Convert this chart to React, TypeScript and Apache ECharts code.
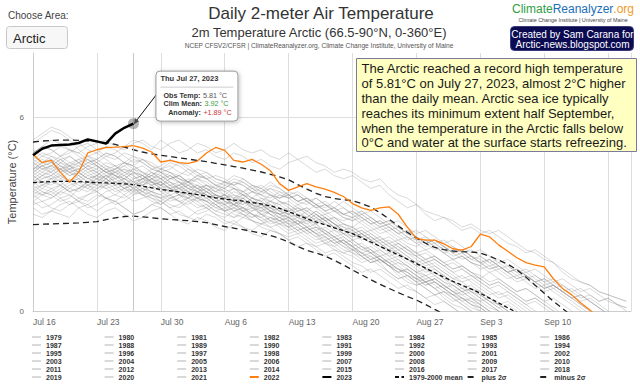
import React, { useEffect, useRef } from 'react';
import * as echarts from 'echarts';

const FONT = '"Liberation Sans", Arial, Helvetica, sans-serif';

// ---------- axis / tick data ----------
const xTickLabels = ['Jul 16', 'Jul 23', 'Jul 30', 'Aug 6', 'Aug 13', 'Aug 20', 'Aug 27', 'Sep 3', 'Sep 10'];
const yTickLabels = ['0', '6'];

// ---------- tooltip values (Jul 27, 2023) ----------
const tipDay = 11;
const tipObs = 5.81;
const tipTitle = 'Thu Jul 27, 2023';
const tipObsText = '5.81 °C';
const tipClimText = '3.92 °C';
const tipAnomText = '+1.89 °C';

// ---------- series values (day 0 = Jul 16) ----------
const y2023 = [4.83, 5.03, 5.13, 5.15, 5.16, 5.21, 5.32, 5.26, 5.19, 5.5, 5.68, 5.81];

const y2022 = [4.86, 4.6, 4.67, 4.3, 4.0, 4.3, 4.9, 5.0, 5.07, 5.08,
  5.1, 5.13, 5.05, 4.93, 4.62, 4.67, 4.6, 4.58, 4.65, 4.9,
  5.07, 4.98, 4.67, 4.62, 4.7, 4.55, 4.35, 3.95, 3.74, 3.85,
  3.95, 3.85, 3.78, 3.68, 3.55, 3.33, 3.2, 3.12, 3.2, 3.23,
  3.0, 2.6, 2.25, 2.2, 2.2, 2.08, 1.93, 1.89, 2.0, 2.38,
  2.3, 2.05, 1.85, 1.65, 1.5, 1.42, 1.37, 1.0, 0.7, 0.5,
  0.25, 0.03, -0.2, -0.45, -0.7, -0.9];

const climMean = [3.98, 4.0, 4.01, 4.02, 4.02, 4.01, 4.0, 3.98, 3.97, 3.96,
  3.94, 3.92, 3.87, 3.82, 3.77, 3.73, 3.69, 3.65, 3.61, 3.56,
  3.51, 3.47, 3.44, 3.41, 3.36, 3.32, 3.26, 3.18, 3.08, 2.97,
  2.86, 2.76, 2.67, 2.58, 2.49, 2.4, 2.27, 2.14, 2.01, 1.87,
  1.74, 1.61, 1.47, 1.33, 1.19, 1.05, 0.92, 0.8, 0.68, 0.55,
  0.4, 0.25, 0.1, -0.05, -0.2, -0.35, -0.5, -0.65, -0.8, -0.95,
  -1.1, -1.25, -1.4, -1.55, -1.7, -1.85];

const plus2s = [5.24, 5.27, 5.29, 5.3, 5.3, 5.29, 5.27, 5.25, 5.22, 5.17,
  5.08, 5.0, 4.93, 4.87, 4.83, 4.79, 4.75, 4.71, 4.67, 4.63,
  4.58, 4.53, 4.48, 4.43, 4.37, 4.31, 4.24, 4.16, 4.07, 3.92,
  3.78, 3.65, 3.55, 3.49, 3.45, 3.42, 3.33, 3.22, 3.05, 2.85,
  2.64, 2.44, 2.26, 2.1, 1.97, 1.9, 1.86, 1.84, 1.83, 1.8,
  1.7, 1.58, 1.45, 1.28, 1.05, 0.8, 0.55, 0.3, 0.08, -0.15,
  -0.4, -0.65, -0.9, -1.15, -1.4, -1.65];

const minus2s = [2.68, 2.69, 2.7, 2.71, 2.72, 2.73, 2.75, 2.77, 2.83, 2.89,
  2.93, 2.94, 2.92, 2.89, 2.86, 2.84, 2.82, 2.8, 2.77, 2.74,
  2.68, 2.62, 2.57, 2.52, 2.47, 2.41, 2.34, 2.25, 2.14, 2.0,
  1.88, 1.8, 1.7, 1.57, 1.43, 1.27, 1.12, 0.97, 0.83, 0.7,
  0.57, 0.45, 0.34, 0.2, 0.05, -0.1, -0.25, -0.4, -0.55, -0.7];

const y1979 = [3.7,3.6,3.8,3.9,3.7,3.5,3.6, 3.8,3.9,4.0,3.8,3.7,3.6,3.5, 3.4,3.6,3.7,3.5,3.3,3.2,3.4, 3.5,3.3,3.1,3.2,3.0,2.9,2.8, 2.9,2.7,2.5,2.6,2.4,2.2,2.3, 2.1,1.9,1.8,1.6,1.5,1.3,1.2, 1.0,0.9,1.0,0.8,0.6,0.5,0.3, 0.2,0.0,-0.2,-0.4];
const y1980 = [4.4,4.5,4.3,4.6,4.8,4.6,4.4, 4.2,4.0,4.1,4.3,4.2,3.9,3.7, 3.6,3.8,3.9,3.7,3.5,3.4,3.3, 3.1,3.2,3.4,3.3,3.0,2.8,2.9, 2.7,2.5,2.6,2.4,2.1,2.0,2.2, 2.0,1.7,1.5,1.6,1.4,1.1,0.9, 0.8,0.9,0.7,0.4,0.2,0.1,-0.1, -0.3];
const y1981 = [3.3,3.4,3.2,3.1,3.3,3.5,3.4, 3.6,3.5,3.3,3.4,3.6,3.8,3.7, 3.5,3.3,3.2,3.4,3.5,3.3,3.1, 3.0,2.9,3.1,3.0,2.8,2.6,2.7, 2.5,2.6,2.4,2.2,2.3,2.1,1.9, 1.8,1.6,1.7,1.5,1.2,1.0,1.1, 0.9,0.7,0.5,0.6,0.4,0.2,0.0, -0.2,-0.4];
const y1982 = [4.9,5.1,5.0,4.8,4.6,4.7,4.5, 4.3,4.1,3.9,4.0,3.8,3.7,3.9, 4.0,3.8,3.6,3.5,3.7,3.6,3.4, 3.3,3.1,3.2,3.0,2.9,3.1,3.0, 2.8,2.7,2.9,2.7,2.5,2.3,2.4, 2.2,2.0,1.8,1.9,1.7,1.5,1.4, 1.2,1.1,0.9,0.7,0.8,0.6,0.4, 0.3,0.1,0.0,-0.2,-0.4];
const y1983 = [3.0,2.9,3.1,3.0,2.9,3.2,3.3, 3.1,3.3,3.4,3.2,3.0,3.1,3.3, 3.4,3.2,3.0,2.9,3.1,3.2,3.0, 2.8,2.7,2.9,2.8,2.6,2.5,2.4, 2.2,2.3,2.1,2.0,1.8,1.9,1.7, 1.5,1.4,1.2,1.3,1.1,0.9,0.7, 0.6,0.4,0.5,0.3,0.1,-0.1,-0.3];
const y1984 = [4.2,4.0,3.9,4.1,4.3,4.2,4.0, 3.9,4.1,4.4,4.5,4.3,4.1,4.0, 3.8,3.7,3.9,4.0,3.8,3.6,3.5, 3.6,3.4,3.3,3.5,3.4,3.2,3.0, 3.1,2.9,2.8,3.0,2.8,2.6,2.5, 2.3,2.4,2.2,2.0,1.8,1.9,1.7, 1.5,1.3,1.2,1.0,0.9,0.7,0.6, 0.4,0.2,0.0,-0.2,-0.3];
const y1985 = [3.5,3.7,3.6,3.4,3.5,3.8,3.9, 3.7,3.5,3.6,3.8,3.9,3.7,3.5, 3.3,3.5,3.6,3.4,3.2,3.3,3.1, 3.2,3.0,2.9,3.1,3.2,3.0,2.8, 2.9,2.7,2.5,2.6,2.5,2.3,2.1, 2.2,2.0,1.9,1.7,1.8,1.6,1.4, 1.2,1.3,1.1,0.9,0.8,0.6,0.7, 0.5,0.3,0.2,0.0,-0.2,-0.4];
const y1986 = [4.6,4.4,4.5,4.7,4.5,4.3,4.1, 4.2,4.4,4.2,4.0,3.8,3.9,4.1, 4.2,4.0,3.8,3.9,3.7,3.5,3.6, 3.4,3.3,3.5,3.2,3.1,3.3,3.1, 2.9,2.8,2.6,2.7,2.4,2.3,2.1, 2.0,1.8,1.9,1.6,1.4,1.3,1.1, 0.9,1.0,0.8,0.6,0.5,0.3,0.1, 0.0,-0.2,-0.4];
const y1987 = [3.8,3.9,4.1,4.2,4.0,3.8,3.7, 3.9,3.8,3.6,3.5,3.7,3.9,4.0, 3.8,3.6,3.4,3.5,3.7,3.6,3.4, 3.2,3.3,3.1,2.9,3.0,2.8,2.7, 2.8,2.6,2.4,2.5,2.3,2.1,2.2, 2.0,1.8,1.6,1.7,1.5,1.3,1.2, 1.0,0.8,0.9,0.7,0.5,0.4,0.2, 0.1,-0.1,-0.3];
const y1988 = [4.3,4.5,4.6,4.4,4.2,4.3,4.5, 4.6,4.4,4.2,4.1,4.3,4.2,4.0, 3.9,4.1,4.0,3.8,3.6,3.7,3.9, 3.7,3.5,3.6,3.4,3.3,3.1,3.2, 3.0,2.9,3.1,2.9,2.7,2.6,2.4, 2.5,2.3,2.1,2.2,2.0,1.8,1.6, 1.5,1.3,1.4,1.2,1.0,0.9,0.7, 0.6,0.4,0.2,0.3,0.1,-0.1,-0.3];
const y1989 = [3.6,3.4,3.5,3.7,3.6,3.4,3.3, 3.5,3.7,3.8,3.6,3.4,3.5,3.6, 3.4,3.2,3.3,3.5,3.4,3.2,3.0, 2.9,3.1,3.0,2.8,2.7,2.9,2.8, 2.6,2.4,2.5,2.3,2.1,2.2,2.0, 1.8,1.7,1.5,1.6,1.4,1.2,1.0, 0.8,0.9,0.7,0.5,0.3,0.4,0.2, 0.0,-0.2,-0.4];
const y1990 = [5.2,5.4,5.6,5.5,5.3,5.0,4.8, 4.7,4.9,4.8,4.6,4.4,4.5,4.3, 4.1,4.2,4.0,3.8,3.9,3.7,3.6, 3.5,3.7,3.6,3.4,3.3,3.2,3.4, 3.2,3.0,2.9,3.1,2.9,2.7,2.5, 2.4,2.2,2.3,2.1,1.9,1.8,1.6, 1.4,1.5,1.3,1.1,0.9,0.8,0.6, 0.5,0.3,0.1,0.2,0.0,-0.2,-0.4];
const y1991 = [4.0,4.2,4.1,3.9,3.7,3.8,4.0, 4.1,3.9,3.7,3.8,4.0,4.1,3.9, 3.7,3.5,3.6,3.8,3.7,3.5,3.3, 3.4,3.2,3.1,3.3,3.2,3.0,2.9, 2.7,2.8,2.6,2.4,2.5,2.3,2.1, 1.9,2.0,1.8,1.6,1.4,1.5,1.3, 1.1,0.9,1.0,0.8,0.6,0.4,0.3, 0.1,-0.1,-0.3];
const y1992 = [3.2,3.0,3.1,3.3,3.4,3.2,3.0, 2.9,3.1,3.2,3.0,2.8,2.9,3.1, 3.2,3.0,2.8,2.7,2.9,2.8,2.6, 2.5,2.7,2.6,2.4,2.3,2.5,2.4, 2.2,2.0,2.1,1.9,1.7,1.8,1.6, 1.4,1.2,1.3,1.1,0.9,0.7,0.8, 0.6,0.4,0.2,0.3,0.1,-0.1,-0.3];
const y1993 = [4.5,4.3,4.2,4.4,4.6,4.5,4.3, 4.1,4.2,4.0,3.8,3.9,4.1,4.2, 4.0,3.8,3.7,3.9,3.8,3.6,3.4, 3.5,3.3,3.4,3.2,3.0,3.1,2.9, 2.8,2.9,2.7,2.5,2.6,2.4,2.2, 2.0,2.1,1.9,1.7,1.5,1.6,1.4, 1.2,1.0,1.1,0.9,0.7,0.5,0.6, 0.4,0.2,0.0,-0.2,-0.4];
const y1994 = [3.9,3.7,3.6,3.8,4.0,4.1,3.9, 3.8,4.0,4.2,4.1,3.9,3.7,3.6, 3.5,3.7,3.8,3.6,3.4,3.5,3.3, 3.1,3.2,3.0,2.9,3.1,3.0,2.8, 2.6,2.7,2.5,2.3,2.4,2.2,2.0, 1.9,1.7,1.8,1.6,1.4,1.2,1.3, 1.1,0.9,0.7,0.8,0.6,0.4,0.2, 0.1,-0.1,-0.3];
const y1995 = [4.7,4.9,4.8,4.6,4.4,4.5,4.7, 4.5,4.3,4.4,4.6,4.5,4.3,4.1, 4.0,4.2,4.1,3.9,3.7,3.8,3.6, 3.5,3.6,3.4,3.3,3.5,3.3,3.1, 3.0,3.2,3.0,2.8,2.9,2.7,2.5, 2.4,2.5,2.3,2.1,1.9,2.0,1.8, 1.6,1.4,1.5,1.3,1.1,0.9,1.0, 0.8,0.6,0.4,0.5,0.3,0.1,-0.1,-0.3];
const y1996 = [3.4,3.6,3.7,3.5,3.3,3.4,3.6, 3.7,3.5,3.4,3.6,3.8,3.6,3.4, 3.3,3.5,3.4,3.2,3.0,3.1,3.3, 3.1,2.9,3.0,2.8,2.7,2.8,2.6, 2.4,2.5,2.3,2.1,2.2,2.0,1.8, 1.7,1.5,1.6,1.4,1.2,1.0,1.1, 0.9,0.7,0.5,0.6,0.4,0.2,0.0, -0.2,-0.4];
const y1997 = [4.1,3.9,4.0,4.2,4.4,4.3,4.1, 4.0,3.8,3.9,4.1,4.0,3.8,3.7, 3.9,3.8,3.6,3.5,3.7,3.8,3.6, 3.4,3.3,3.5,3.3,3.1,3.2,3.0, 2.9,2.7,2.8,2.6,2.4,2.5,2.3, 2.1,1.9,2.0,1.8,1.6,1.7,1.5, 1.3,1.1,1.2,1.0,0.8,0.6,0.7, 0.5,0.3,0.1,-0.1,-0.3];
const y1998 = [3.7,3.9,3.8,3.6,3.8,4.0,4.2, 4.3,4.1,3.9,4.0,3.8,3.6,3.7, 3.6,3.4,3.5,3.7,3.6,3.4,3.2, 3.3,3.1,3.2,3.0,2.9,2.7,2.8, 2.7,2.5,2.6,2.4,2.3,2.1,2.2, 2.0,1.8,1.7,1.5,1.6,1.4,1.2, 1.0,1.1,0.9,0.7,0.5,0.6,0.4, 0.2,0.0,-0.2,-0.4];
const y1999 = [4.4,4.2,4.3,4.5,4.4,4.2,4.0, 3.9,4.1,4.3,4.2,4.0,3.9,4.1, 3.9,3.7,3.8,3.6,3.5,3.7,3.5, 3.3,3.4,3.2,3.1,3.3,3.1,2.9, 3.0,2.8,2.7,2.9,2.7,2.5,2.4, 2.2,2.3,2.1,1.9,1.7,1.8,1.6, 1.4,1.2,1.3,1.1,0.9,0.7,0.8, 0.6,0.4,0.2,0.0,-0.2,-0.4];
const y2000 = [4.0,3.8,3.7,3.9,4.1,3.9,3.8, 4.0,4.2,4.1,3.9,3.7,3.8,3.6, 3.5,3.6,3.4,3.3,3.5,3.4,3.2, 3.1,3.3,3.2,3.0,2.8,2.9,2.7, 2.6,2.8,2.6,2.4,2.2,2.3,2.1, 1.9,1.8,1.6,1.7,1.5,1.3,1.1, 1.0,0.8,0.9,0.7,0.5,0.3,0.4, 0.2,0.0,-0.2,-0.4];
const y2001 = [4.2,4.4,4.3,4.1,4.0,4.2,4.4, 4.5,4.3,4.1,4.2,4.4,4.3,4.1, 3.9,4.0,3.8,3.7,3.9,3.8,3.6, 3.5,3.4,3.6,3.4,3.2,3.3,3.1, 3.0,3.1,2.9,2.7,2.8,2.6,2.4, 2.3,2.4,2.2,2.0,2.1,1.9,1.7, 1.5,1.6,1.4,1.2,1.0,1.1,0.9, 0.7,0.5,0.6,0.4,0.2,0.0,-0.2,-0.4];
const y2002 = [3.9,4.1,4.2,4.0,3.8,3.7,3.9, 4.1,4.0,3.8,3.9,4.1,4.2,4.0, 3.8,3.9,3.7,3.6,3.8,3.7,3.5, 3.6,3.4,3.3,3.5,3.4,3.2,3.1, 3.2,3.0,2.9,3.1,2.9,2.7,2.6, 2.4,2.5,2.3,2.1,2.2,2.0,1.8, 1.7,1.5,1.6,1.4,1.2,1.0,1.1, 0.9,0.7,0.5,0.6,0.4,0.2,0.0,-0.2,-0.4];
const y2003 = [4.6,4.4,4.5,4.7,4.8,4.6,4.4, 4.3,4.5,4.4,4.2,4.0,4.1,4.3, 4.1,3.9,4.0,3.8,3.7,3.9,3.8, 3.6,3.5,3.7,3.5,3.3,3.4,3.2, 3.1,3.3,3.1,2.9,3.0,2.8,2.6, 2.5,2.6,2.4,2.2,2.3,2.1,1.9, 1.8,1.6,1.7,1.5,1.3,1.4,1.2, 1.0,0.8,0.9,0.7,0.5,0.3,0.4,0.2,0.0,-0.2,-0.4];
const y2004 = [3.6,3.8,4.0,3.9,3.7,3.8,4.0, 4.2,4.1,3.9,3.7,3.8,4.0,3.9, 3.7,3.8,3.9,3.7,3.5,3.6,3.4, 3.3,3.5,3.4,3.2,3.3,3.1,3.0, 2.9,3.0,2.8,2.7,2.9,2.7,2.5, 2.3,2.4,2.2,2.0,1.9,2.1,1.9, 1.7,1.5,1.6,1.4,1.2,1.3,1.1, 0.9,0.7,0.8,0.6,0.4,0.2,0.3,0.1,-0.1,-0.3];
const y2005 = [4.8,4.6,4.7,4.5,4.3,4.4,4.6, 4.7,4.5,4.3,4.4,4.2,4.0,4.1, 4.3,4.2,4.0,3.9,4.1,4.0,3.8, 3.7,3.8,3.6,3.5,3.7,3.6,3.4, 3.3,3.1,3.2,3.0,2.8,2.9,2.7, 2.6,2.4,2.5,2.3,2.1,2.2,2.0, 1.8,1.9,1.7,1.5,1.6,1.4,1.2, 1.1,0.9,1.0,0.8,0.6,0.7,0.5,0.3,0.1,-0.1,-0.3];
const y2006 = [3.8,3.6,3.5,3.7,3.9,4.0,3.8, 3.7,3.9,4.0,3.8,3.6,3.7,3.9, 4.0,3.8,3.6,3.7,3.5,3.4,3.6, 3.5,3.3,3.2,3.4,3.3,3.1,3.0, 3.1,2.9,2.8,3.0,2.8,2.6,2.7, 2.5,2.3,2.4,2.2,2.0,2.1,1.9, 1.7,1.8,1.6,1.4,1.5,1.3,1.1, 1.0,1.2,1.0,0.8,0.6,0.7,0.5,0.3,0.4,0.2,0.0,-0.2];
const y2007 = [4.9,5.1,5.0,4.8,4.9,5.1,5.2, 5.0,4.8,4.7,4.9,4.8,4.6,4.4, 4.5,4.7,4.6,4.4,4.2,4.3,4.1, 4.0,4.2,4.1,3.9,3.8,4.0,3.8, 3.6,3.7,3.5,3.3,3.4,3.2,3.0, 2.9,3.0,2.8,2.6,2.7,2.5,2.3, 2.1,2.2,2.0,1.8,1.9,1.7,1.5, 1.4,1.6,1.4,1.2,1.3,1.1,0.9,1.0,0.8,0.6,0.7,0.5,0.3,0.1,-0.1,-0.3];
const y2008 = [4.3,4.1,4.2,4.4,4.3,4.1,3.9, 4.0,4.2,4.3,4.1,3.9,4.0,4.2, 4.1,3.9,3.8,4.0,3.9,3.7,3.5, 3.6,3.4,3.5,3.3,3.2,3.4,3.3, 3.1,3.2,3.0,2.8,2.9,2.7,2.5, 2.6,2.4,2.2,2.3,2.1,1.9,2.0, 1.8,1.6,1.7,1.5,1.3,1.4,1.2, 1.0,0.8,0.9,0.7,0.5,0.3,0.4,0.2,0.0,-0.2];
const y2009 = [4.5,4.7,4.6,4.4,4.5,4.7,4.8, 4.6,4.4,4.5,4.3,4.1,4.2,4.4, 4.3,4.1,4.2,4.0,3.8,3.9,3.7, 3.8,3.6,3.5,3.7,3.6,3.4,3.3, 3.4,3.2,3.1,3.3,3.1,2.9,2.8, 2.9,2.7,2.5,2.6,2.4,2.2,2.3, 2.1,1.9,2.0,1.8,1.6,1.7,1.5, 1.3,1.4,1.2,1.0,1.1,0.9,0.7,0.8,0.6,0.4,0.2,0.0,-0.2];
const y2010 = [5.0,4.8,4.9,5.1,5.0,4.8,4.6, 4.7,4.9,4.8,4.6,4.5,4.7,4.6, 4.4,4.5,4.3,4.2,4.4,4.3,4.1, 4.0,3.9,4.1,3.9,3.7,3.8,3.6, 3.5,3.6,3.4,3.2,3.3,3.1,2.9, 2.8,3.0,2.8,2.6,2.7,2.5,2.3, 2.2,2.0,2.1,1.9,1.7,1.8,1.6, 1.5,1.3,1.4,1.2,1.0,1.1,0.9,0.7,0.8,0.6,0.4,0.2,0.0,-0.2];
const y2011 = [4.4,4.6,4.8,4.7,4.5,4.6,4.8, 4.9,4.7,4.5,4.6,4.8,4.7,4.5, 4.3,4.4,4.6,4.5,4.3,4.1,4.2, 4.1,3.9,4.0,3.8,3.9,3.7,3.5, 3.6,3.4,3.5,3.3,3.1,3.2,3.0, 3.1,2.9,2.7,2.8,2.6,2.4,2.5, 2.3,2.1,2.2,2.0,1.8,1.9,1.7, 1.6,1.4,1.5,1.3,1.1,1.2,1.0,0.8,0.9,0.7,0.5,0.3,0.4,0.2,0.0,-0.2];
const y2012 = [4.1,4.3,4.5,4.4,4.2,4.3,4.5, 4.4,4.2,4.0,4.1,4.3,4.2,4.0, 3.9,4.1,4.2,4.0,3.8,3.9,3.7, 3.6,3.8,3.7,3.5,3.4,3.6,3.4, 3.3,3.1,3.2,3.0,2.8,2.9,2.7, 2.6,2.8,2.6,2.4,2.5,2.3,2.1, 2.0,2.2,2.0,1.8,1.6,1.7,1.5, 1.4,1.2,1.3,1.1,0.9,1.0,0.8,0.6,0.7,0.5,0.3,0.1,-0.1,-0.3];
const y2013 = [3.4,3.2,3.3,3.5,3.6,3.4,3.2, 3.3,3.5,3.4,3.2,3.0,3.1,3.3, 3.2,3.0,3.1,2.9,2.8,3.0,2.9, 2.7,2.8,2.6,2.5,2.7,2.6,2.4, 2.3,2.4,2.2,2.0,2.1,1.9,1.8, 1.9,1.7,1.5,1.6,1.4,1.2,1.3, 1.1,0.9,1.0,0.8,0.6,0.7,0.5, 0.3,0.4,0.2,0.0,-0.2,-0.4];
const y2014 = [4.2,4.0,4.1,4.3,4.5,4.4,4.2, 4.1,4.3,4.2,4.0,3.9,4.1,4.3, 4.2,4.0,3.9,4.1,4.0,3.8,3.7, 3.9,3.8,3.6,3.7,3.5,3.4,3.6, 3.5,3.3,3.4,3.2,3.0,3.1,2.9, 2.8,2.9,2.7,2.5,2.6,2.4,2.2, 2.3,2.1,1.9,2.0,1.8,1.6,1.7, 1.5,1.3,1.4,1.2,1.0,1.1,0.9,0.7,0.8,0.6,0.4,0.5,0.3,0.1,-0.1,-0.3];
const y2015 = [4.6,4.8,4.7,4.5,4.3,4.4,4.6, 4.5,4.3,4.4,4.6,4.5,4.3,4.2, 4.4,4.3,4.1,4.0,4.2,4.1,3.9, 3.8,4.0,3.9,3.7,3.8,3.6,3.5, 3.6,3.4,3.3,3.5,3.3,3.1,3.2, 3.0,2.8,2.9,2.7,2.5,2.6,2.4, 2.2,2.3,2.1,1.9,2.0,1.8,1.6, 1.7,1.5,1.3,1.4,1.2,1.0,1.1,0.9,0.7,0.8,0.6,0.4,0.5,0.3,0.4,0.2,0.1];
const y2016 = [4.9,5.1,5.3,5.2,5.0,4.9,5.1, 5.2,5.3,5.1,5.0,5.2,5.3,5.1, 5.0,5.2,5.3,5.1,4.9,5.0,4.8, 4.7,4.9,4.8,4.6,4.7,4.5,4.4, 4.6,4.7,4.5,4.3,4.4,4.2,4.1, 4.2,4.0,3.8,3.9,3.6,3.4,3.2, 3.3,3.0,2.8,2.9,2.7,2.5,2.6, 2.4,2.5,2.3,2.1,2.0,1.8,1.9,1.7,1.5,1.3,1.1,0.9,0.8,0.6,0.5,0.4,0.3];
const y2017 = [4.3,4.5,4.4,4.2,4.0,4.1,4.3, 4.4,4.6,4.5,4.3,4.4,4.2,4.0, 4.1,4.3,4.2,4.0,4.1,3.9,3.8, 4.0,3.9,3.7,3.8,3.6,3.5,3.7, 3.6,3.4,3.5,3.3,3.2,3.4,3.2, 3.0,3.1,2.9,2.7,2.8,2.6,2.4, 2.5,2.3,2.1,2.2,2.0,1.8,1.9, 1.7,1.5,1.6,1.4,1.2,1.3,1.1,0.9,1.0,0.8,0.6,0.7,0.5,0.3,0.4,0.2,0.0];
const y2018 = [4.0,4.2,4.4,4.6,4.5,4.3,4.1, 4.2,4.4,4.3,4.5,4.7,4.6,4.4, 4.3,4.1,4.2,4.4,4.3,4.1,3.9, 3.8,4.0,3.9,3.7,3.6,3.8,3.7, 3.5,3.6,3.4,3.2,3.3,3.1,3.0, 3.1,2.9,2.7,2.8,2.6,2.4,2.5, 2.3,2.1,2.2,2.0,1.8,1.9,1.7, 1.5,1.6,1.4,1.2,1.3,1.1,0.9,1.0,0.8,0.6,0.4,0.5,0.3,0.1,-0.1,-0.3];
const y2019 = [4.7,4.5,4.6,4.8,5.0,4.9,4.7, 4.6,4.8,4.9,5.1,5.3,5.2,5.0, 5.3,5.1,4.9,5.0,5.2,5.1,4.9, 5.0,5.2,5.0,4.9,5.0,4.8,4.7, 4.9,4.7,4.8,4.6,4.5,4.3,4.4, 4.3,4.1,4.0,4.1,3.8,3.6,3.5, 3.3,3.1,3.0,2.9,2.8,2.6,2.7, 2.5,2.4,2.5,2.3,2.1,1.9,1.8,1.6,1.5,1.2,1.0,0.9,0.8,0.6,0.5,0.4,0.3];
const y2020 = [4.4,4.6,4.5,4.3,4.4,4.6,4.7, 4.5,4.3,4.2,4.4,4.3,4.1,4.2, 4.4,4.3,4.1,4.0,4.2,4.1,3.9, 4.0,3.8,3.7,3.9,3.8,3.6,3.5, 3.7,3.6,3.4,3.5,3.3,3.2,3.4, 3.2,3.0,3.1,2.9,2.7,2.8,2.6, 2.4,2.5,2.3,2.1,2.2,2.0,1.8, 1.9,1.7,1.5,1.6,1.4,1.2,1.3,1.1,0.9,1.0,0.8,0.6,0.7,0.5,0.3,0.2,0.1];
const y2021 = [5.3,5.5,5.7,5.6,5.4,5.2,5.0, 4.9,5.1,5.0,4.8,4.6,4.7,4.5, 4.4,4.6,4.5,4.3,4.1,4.2,4.0, 3.9,4.1,4.0,3.8,3.7,3.9,3.8, 3.6,3.4,3.5,3.3,3.1,3.2,3.0, 2.9,3.1,2.9,2.7,2.8,2.6,2.4, 2.3,2.1,2.2,2.0,1.8,1.9,1.7, 1.5,1.6,1.4,1.2,1.3,1.1,0.9,0.7,0.8,0.6,0.4,0.2,0.0,-0.2];

const grayYears: [number, number[]][] = [
  [1979, y1979], [1980, y1980], [1981, y1981], [1982, y1982], [1983, y1983], [1984, y1984],
  [1985, y1985], [1986, y1986], [1987, y1987], [1988, y1988], [1989, y1989], [1990, y1990],
  [1991, y1991], [1992, y1992], [1993, y1993], [1994, y1994], [1995, y1995], [1996, y1996],
  [1997, y1997], [1998, y1998], [1999, y1999], [2000, y2000], [2001, y2001], [2002, y2002],
  [2003, y2003], [2004, y2004], [2005, y2005], [2006, y2006], [2007, y2007], [2008, y2008],
  [2009, y2009], [2010, y2010], [2011, y2011], [2012, y2012], [2013, y2013], [2014, y2014],
  [2015, y2015], [2016, y2016], [2017, y2017], [2018, y2018], [2019, y2019], [2020, y2020],
  [2021, y2021],
];

const annotationLines = [
  'The Arctic reached a record high temperature',
  'of 5.81°C on July 27, 2023, almost 2°C higher',
  'than the daily mean. Arctic sea ice typically',
  'reaches its minimum extent half September,',
  'when the temperature in the Arctic falls below',
  '0°C and water at the surface starts refreezing.',
];

const GRAY = 'rgba(150,150,150,0.36)';
const toXY = (vals: number[]) => vals.map((v, i) => [i, v]);

const legendNames = [
  ...grayYears.map(([y]) => String(y)), '2022', '2023', '1979-2000 mean', 'plus 2σ', 'minus 2σ',
];

function buildOption(): any {
  const series: any[] = [];
  grayYears.forEach(([yr, vals]) => {
    series.push({
      name: String(yr), type: 'line', data: toXY(vals), symbol: 'none', silent: true,
      lineStyle: { color: GRAY, width: 1 }, itemStyle: { color: GRAY }, z: 1,
      emphasis: { disabled: true },
    });
  });
  series.push({
    name: '1979-2000 mean', type: 'line', data: toXY(climMean), symbol: 'none', silent: true,
    lineStyle: { color: '#111', width: 1.3, type: [4, 2.5] }, itemStyle: { color: '#111' }, z: 3,
    emphasis: { disabled: true },
  });
  series.push({
    name: 'plus 2σ', type: 'line', data: toXY(plus2s), symbol: 'none', silent: true,
    lineStyle: { color: '#222', width: 1.3, type: [6, 4] }, itemStyle: { color: '#222' }, z: 3,
    emphasis: { disabled: true },
  });
  series.push({
    name: 'minus 2σ', type: 'line', data: toXY(minus2s), symbol: 'none', silent: true,
    lineStyle: { color: '#222', width: 1.3, type: [6, 4] }, itemStyle: { color: '#222' }, z: 3,
    emphasis: { disabled: true },
  });
  series.push({
    name: '2022', type: 'line', data: toXY(y2022), symbol: 'none', silent: true,
    lineStyle: { color: '#ff7f0e', width: 1.3 }, itemStyle: { color: '#ff7f0e' }, z: 4,
    emphasis: { disabled: true },
  });
  series.push({
    name: '2023', type: 'line', data: toXY(y2023), symbol: 'none', silent: true,
    lineStyle: { color: '#000', width: 2.5 }, itemStyle: { color: '#000' }, z: 5,
    emphasis: { disabled: true },
    markLine: {
      silent: true, symbol: 'none', label: { show: false },
      lineStyle: { color: '#c8c8c8', width: 1, type: 'solid' },
      data: [{ xAxis: tipDay }],
    },
    markPoint: {
      silent: true, symbol: 'circle', symbolSize: 11, label: { show: false },
      itemStyle: { color: 'rgba(120,120,120,0.55)' },
      data: [{ coord: [tipDay, tipObs] }],
    },
  });

  const legends = Array.from({ length: 8 }, (_, c) => ({
    orient: 'vertical', left: 31 + c * 72.6, top: 333, itemWidth: 9, itemHeight: 8, itemGap: 0,
    padding: 0, selectedMode: false,
    itemStyle: { opacity: 0 },
    textStyle: { fontSize: 7, fontWeight: 'bold', color: '#333', fontFamily: FONT, lineHeight: 8 },
    data: legendNames.filter((_, i) => i % 8 === c),
  }));

  return {
    animation: false,
    backgroundColor: '#fff',
    textStyle: { fontFamily: FONT },
    grid: { left: 33, right: 9, top: 53, bottom: 73, outerBoundsMode: 'none', containLabel: false },
    legend: legends,
    xAxis: {
      type: 'value', min: 0, max: 65.5, interval: 7,
      axisLine: { show: true, lineStyle: { color: '#ccc' } },
      axisTick: { show: false },
      splitLine: { show: true, lineStyle: { color: '#ddd', width: 1 } },
      axisLabel: {
        color: '#666', fontSize: 8.5, align: 'left', margin: 6,
        formatter: (v: number) => (v % 7 === 0 && xTickLabels[v / 7] ? xTickLabels[v / 7] : ''),
      },
    },
    yAxis: {
      type: 'value', min: 0, max: 8, interval: 6,
      name: 'Temperature (°C)', nameLocation: 'middle', nameGap: 16, nameMoveOverlap: false,
      nameTextStyle: { fontSize: 11, color: '#444' },
      axisLine: { show: true, lineStyle: { color: '#ccc' } },
      axisTick: { show: false },
      splitLine: { show: true, lineStyle: { color: ['#ddd', '#ddd', 'rgba(0,0,0,0)'] } },
      axisLabel: {
        color: '#666', fontSize: 8, margin: 9,
        formatter: (v: number) => (yTickLabels.includes(String(v)) ? String(v) : ''),
      },
    },
    series,
  };
}

function txt(x: number, y: number, text: string, size: number, fill: string, align = 'left', weight = 'normal', extra: any = {}) {
  return {
    type: 'text', x, y, silent: true,
    style: {
      text, fill, font: `${weight} ${size}px ${FONT}`,
      align, textAlign: align, verticalAlign: 'middle', textVerticalAlign: 'middle', ...extra,
    },
  };
}

function buildGraphics(px: number, py: number): any[] {
  const g: any[] = [];
  // header, left
  g.push(txt(8, 15, 'Choose Area:', 10, '#444'));
  g.push({
    type: 'rect', silent: true, shape: { x: 6.5, y: 26.5, width: 61, height: 22, r: 3 },
    style: { fill: '#f7f7f7', stroke: '#c8c8c8', lineWidth: 1 },
  });
  g.push(txt(13, 38, 'Arctic', 13, '#222'));
  // titles
  g.push(txt(321, 13, 'Daily 2-meter Air Temperature', 17, '#333', 'center'));
  g.push(txt(319, 32, '2m Temperature Arctic (66.5-90°N, 0-360°E)', 13, '#333', 'center'));
  g.push(txt(319, 45.5, 'NCEP CFSV2/CFSR | ClimateReanalyzer.org, Climate Change Institute, University of Maine', 6.6, '#555', 'center'));
  // logo top right
  g.push({
    type: 'text', x: 573, y: 8.5, silent: true,
    style: {
      text: '{g|Climate}{b|Reanalyzer}{o|.org}', align: 'center', textAlign: 'center',
      verticalAlign: 'middle', textVerticalAlign: 'middle', font: `12px ${FONT}`,
      rich: {
        g: { fill: '#2e9e3f', color: '#2e9e3f', font: `12px ${FONT}` },
        b: { fill: '#1b6fb8', color: '#1b6fb8', font: `12px ${FONT}` },
        o: { fill: '#f39a1e', color: '#f39a1e', font: `12px ${FONT}` },
      },
    },
  });
  g.push(txt(573, 20, 'Climate Change Institute | University of Maine', 5.4, '#444', 'center'));
  g.push({
    type: 'rect', silent: true, shape: { x: 510.5, y: 26.5, width: 123, height: 24, r: 4 },
    style: { fill: '#0b0b52', stroke: '#3a3a7a', lineWidth: 1 },
  });
  g.push(txt(572.5, 34, 'Created by Sam Carana for', 10, '#fff', 'center'));
  g.push(txt(572.5, 44, 'Arctic-news.blogspot.com', 10, '#fff', 'center'));

  // annotation box
  g.push({
    type: 'rect', silent: true, z: 50, shape: { x: 356.5, y: 58.5, width: 280, height: 93 },
    style: { fill: '#ffffc2', stroke: '#7a7a9a', lineWidth: 1 },
  });
  g.push({
    type: 'text', x: 361.5, y: 61, silent: true, z: 51,
    style: {
      text: annotationLines.join('\n'), fill: '#1a1a1a', font: `13px ${FONT}`,
      lineHeight: 14.9, align: 'left', textAlign: 'left', verticalAlign: 'top', textVerticalAlign: 'top',
    },
  });

  // tooltip, anchored at the Jul 27 2023 point
  const bx = 22, by = -53, bw = 82, bh = 50;
  g.push({
    type: 'group', x: px, y: py, z: 60, silent: true,
    children: [
      {
        type: 'line', shape: { x1: bx + 1, y1: -29, x2: 3, y2: -3 },
        style: { stroke: '#111', lineWidth: 1 },
      },
      {
        type: 'polygon', shape: { points: [[0.5, 0.5], [5.5, -2.5], [1.5, -5.5]] },
        style: { fill: '#111' },
      },
      {
        type: 'rect', shape: { x: bx + 0.5, y: by + 0.5, width: bw, height: bh, r: 4 },
        style: {
          fill: '#fff', stroke: '#9a9a9a', lineWidth: 1,
          shadowBlur: 4, shadowColor: 'rgba(0,0,0,0.25)', shadowOffsetX: 1, shadowOffsetY: 1,
        },
      },
      txt(bx + 5, by + 8, tipTitle, 7.5, '#333', 'left', 'bold'),
      {
        type: 'line', shape: { x1: bx + 5, y1: by + 16.5, x2: bx + bw - 4, y2: by + 16.5 },
        style: { stroke: '#ccc', lineWidth: 1 },
      },
      txt(bx + 45, by + 24.5, 'Obs Temp:', 7.2, '#333', 'right', 'bold'),
      txt(bx + 47.5, by + 24.5, tipObsText, 7.2, '#555'),
      txt(bx + 46.5, by + 33, 'Clim Mean:', 7.2, '#333', 'right', 'bold'),
      txt(bx + 49, by + 33, tipClimText, 7.2, '#3c9a3c'),
      txt(bx + 45.5, by + 41.5, 'Anomaly:', 7.2, '#333', 'right', 'bold'),
      txt(bx + 48, by + 41.5, tipAnomText, 7.2, '#cc3333'),
    ],
  });
  return g;
}

export default function App() {
  const ref = useRef<HTMLDivElement>(null);
  useEffect(() => {
    if (!ref.current) return;
    const chart = echarts.init(ref.current, null, { renderer: 'svg', width: 640, height: 384 });
    chart.setOption(buildOption());
    const p = chart.convertToPixel({ gridIndex: 0 }, [tipDay, tipObs]) as number[];
    chart.setOption({ graphic: buildGraphics(p[0], p[1]) });
    return () => chart.dispose();
  }, []);
  return (
    <div
      ref={ref}
      style={{ position: 'fixed', left: 0, top: 0, width: 640, height: 384, background: '#fff' }}
    />
  );
}
